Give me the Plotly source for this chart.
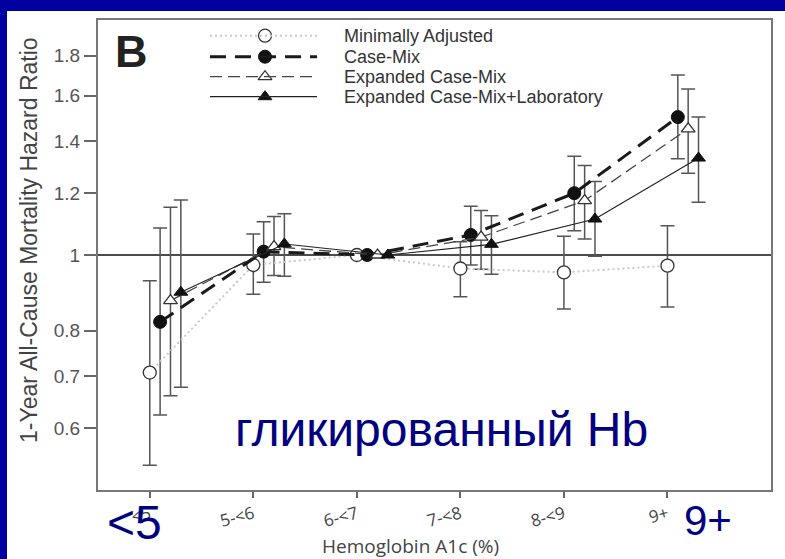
import numpy as np
import plotly.graph_objects as go

# ---- data -------------------------------------------------------------
categories = ["<5", "5-<6", "6-<7", "7-<8", "8-<9", "9+"]
series_names = ["Minimally Adjusted", "Case-Mix", "Expanded Case-Mix",
                "Expanded Case-Mix+Laboratory"]

# hazard ratios with 95% CI (6-<7 is the reference group)
hr_min = [0.707, 0.971, 1.0, 0.961, 0.950, 0.969]
lo_min = [0.538, 0.891, None, 0.884, 0.853, 0.858]
hi_min = [0.927, 1.064, None, 1.040, 1.057, 1.090]

hr_cm = [0.821, 1.010, 1.0, 1.061, 1.200, 1.502]
lo_cm = [0.624, 0.923, None, 0.971, 1.074, 1.328]
hi_cm = [1.083, 1.103, None, 1.155, 1.338, 1.701]

hr_ecm = [0.874, 1.025, 1.0, 1.054, 1.174, 1.451]
lo_ecm = [0.660, 0.941, None, 0.959, 1.048, 1.273]
hi_ecm = [1.151, 1.120, None, 1.140, 1.302, 1.632]

hr_lab = [0.896, 1.033, 1.0, 1.032, 1.112, 1.331]
lo_lab = [0.677, 0.939, None, 0.945, 0.996, 1.168]
hi_lab = [1.176, 1.129, None, 1.123, 1.242, 1.502]

y_ticks = [0.6, 0.7, 0.8, 1.0, 1.2, 1.4, 1.6, 1.8]
y_tick_labels = ["0.6", "0.7", "0.8", "1", "1.2", "1.4", "1.6", "1.8"]

# ---- geometry ---------------------------------------------------------
W, H = 785, 559
L, R, T, B = 98, 771, 20, 490          # plot area in pixels


def px_x(px):
    return (px - L) / (R - L)


def px_y(py):
    return (B - py) / (B - T)


ARIAL = "Arial, Liberation Sans, sans-serif"
OPEN = "Open Sans, Noto Sans, sans-serif"
NAVY = "#000080"
BORDER = "#0000A0"

styles = [
    dict(offset=0.0, line=dict(color="#c8c8c8", width=2, dash="2px,3px"),
         marker=dict(symbol="circle", size=13, color="white",
                     line=dict(color="#333", width=1.3))),
    dict(offset=0.1, line=dict(color="#1a1a1a", width=3, dash="16px,9px"),
         marker=dict(symbol="circle", size=13, color="#111",
                     line=dict(color="#111", width=1))),
    dict(offset=0.2, line=dict(color="#444", width=1.3, dash="12px,6px"),
         marker=dict(symbol="triangle-up", size=12, color="white",
                     line=dict(color="#333", width=1.3))),
    dict(offset=0.3, line=dict(color="#222", width=1.2),
         marker=dict(symbol="triangle-up", size=12, color="#111",
                     line=dict(color="#111", width=1))),
]
values = [(hr_min, lo_min, hi_min), (hr_cm, lo_cm, hi_cm),
          (hr_ecm, lo_ecm, hi_ecm), (hr_lab, lo_lab, hi_lab)]

fig = go.Figure()
xs = np.arange(len(categories), dtype=float)

# confidence intervals first so the markers sit on top of them
for (hr, lo, hi), st in zip(values, styles):
    idx = [i for i in range(len(hr)) if lo[i] is not None]
    fig.add_trace(go.Scatter(
        x=[xs[i] + st["offset"] for i in idx],
        y=[hr[i] for i in idx],
        mode="markers",
        marker=dict(size=1, opacity=0),
        error_y=dict(type="data", symmetric=False,
                     array=[hi[i] - hr[i] for i in idx],
                     arrayminus=[hr[i] - lo[i] for i in idx],
                     color="#555", thickness=1.5, width=7),
        showlegend=False, hoverinfo="skip"))

for name, (hr, lo, hi), st in zip(series_names, values, styles):
    fig.add_trace(go.Scatter(
        x=xs + st["offset"], y=hr, name=name,
        mode="lines+markers", line=st["line"], marker=st["marker"],
        showlegend=False))

# ---- hand-drawn key ---------------------------------------------------
key_rows = [35.7, 56.7, 76.7, 96.7]
shapes = [
    dict(type="rect", xref="paper", yref="paper",
         x0=px_x(0), x1=px_x(W), y0=px_y(0), y1=px_y(11),
         fillcolor=BORDER, line=dict(width=0), layer="above"),
    dict(type="rect", xref="paper", yref="paper",
         x0=px_x(0), x1=px_x(7), y0=px_y(0), y1=px_y(H),
         fillcolor=BORDER, line=dict(width=0), layer="above"),
    dict(type="line", xref="paper", yref="y", x0=0, x1=1, y0=1, y1=1,
         line=dict(color="#111", width=1.3), layer="below"),
]
annotations = []
for name, st, row in zip(series_names, styles, key_rows):
    shapes.append(dict(type="line", xref="paper", yref="paper",
                       x0=px_x(210), x1=px_x(317), y0=px_y(row), y1=px_y(row),
                       line=st["line"]))
    annotations.append(dict(text=name, xref="paper", yref="paper",
                            x=px_x(342), y=px_y(row), xanchor="left",
                            yanchor="middle", showarrow=False,
                            font=dict(family=ARIAL, size=18, color="#333")))
    fig.add_trace(go.Scatter(
        x=[px_x(265)], y=[px_y(row)], xaxis="x2", yaxis="y2",
        mode="markers", marker=st["marker"], showlegend=False,
        hoverinfo="skip"))

annotations += [
    dict(text="B", xref="paper", yref="paper", x=px_x(131), y=px_y(51),
         xanchor="center", yanchor="middle", showarrow=False,
         font=dict(family=ARIAL, size=45, color="#222", weight="bold")),
    dict(text="1-Year All-Cause Mortality Hazard Ratio", xref="paper",
         yref="paper", x=px_x(29), y=px_y(240), textangle=-90,
         xanchor="center", yanchor="middle", showarrow=False,
         font=dict(family=ARIAL, size=23, color="#444")),
    dict(text="Hemoglobin A1c (%)", xref="paper", yref="paper",
         x=px_x(410), y=px_y(546), xanchor="center", yanchor="middle",
         showarrow=False, font=dict(family=OPEN, size=19, color="#444")),
    dict(text="гликированный Hb", xref="paper", yref="paper",
         x=px_x(441), y=px_y(429), xanchor="center", yanchor="middle",
         showarrow=False, font=dict(family=ARIAL, size=48, color=NAVY)),
    dict(text="<5", xref="paper", yref="paper", x=px_x(134), y=px_y(522),
         xanchor="center", yanchor="middle", showarrow=False,
         font=dict(family=ARIAL, size=48, color=NAVY)),
    dict(text="9+", xref="paper", yref="paper", x=px_x(708), y=px_y(520),
         xanchor="center", yanchor="middle", showarrow=False,
         font=dict(family=ARIAL, size=42, color=NAVY)),
]

fig.update_layout(
    width=W, height=H,
    margin=dict(l=L, r=W - R, t=T, b=H - B, pad=0),
    paper_bgcolor="white", plot_bgcolor="white",
    showlegend=False,
    shapes=shapes, annotations=annotations,
    xaxis=dict(range=[-0.5, 6.0], tickvals=list(xs), ticktext=categories,
               tickangle=-15, ticks="outside", ticklen=6, tickcolor="#666",
               tickwidth=1.5, showline=True, linecolor="#777", linewidth=2,
               mirror=True, showgrid=False, zeroline=False,
               tickfont=dict(family=OPEN, size=17, color="#444")),
    yaxis=dict(type="log", range=[np.log10(0.5), np.log10(2.0)],
               tickvals=y_ticks, ticktext=y_tick_labels,
               ticks="outside", ticklen=12, tickcolor="#666", tickwidth=1.5,
               showline=True, linecolor="#777", linewidth=2, mirror=True,
               showgrid=False, zeroline=False,
               tickfont=dict(family=ARIAL, size=19, color="#555")),
    xaxis2=dict(overlaying="x", range=[0, 1], visible=False),
    yaxis2=dict(overlaying="y", range=[0, 1], visible=False),
)

fig.write_html("out.html")
